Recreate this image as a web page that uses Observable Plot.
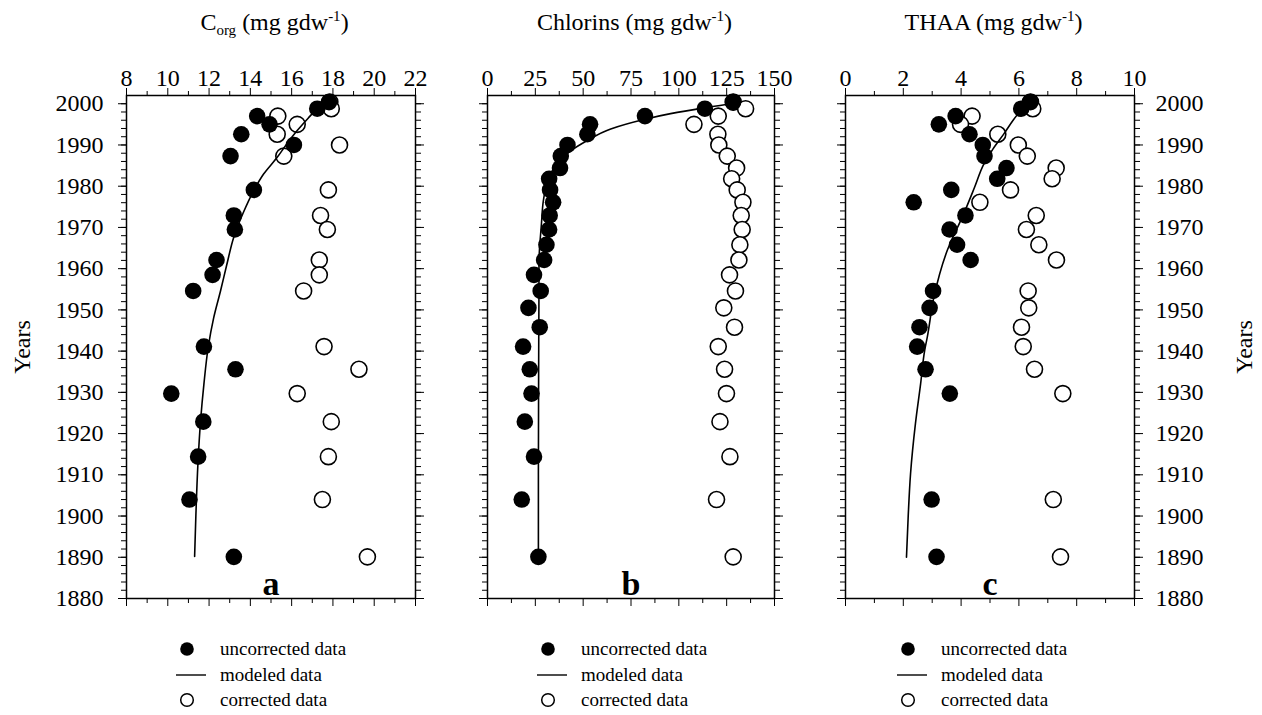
<!DOCTYPE html>
<html>
<head>
<meta charset="utf-8">
<script src="https://cdn.jsdelivr.net/npm/d3@7"></script>
<script src="https://cdn.jsdelivr.net/npm/@observablehq/plot@0.6"></script>
<style>
  html, body { margin: 0; padding: 0; background: #fff; }
  #wrap { position: relative; width: 1262px; height: 715px; overflow: hidden; background: #fff;
          font-family: "Liberation Serif", "DejaVu Serif", serif; color: #000; }
  .abs { position: absolute; }
  .panel svg { overflow: visible; }
  .title { font-size: 24px; white-space: nowrap; transform: translateX(-50%); top: 8px; line-height: 28px; }
  .title sub { font-size: 15px; vertical-align: -5px; line-height: 0; }
  .title sup { font-size: 15px; vertical-align: 9px; line-height: 0; }
  .ylab { font-size: 24px; white-space: nowrap; transform: translate(-50%, -50%) rotate(-90deg); }
  .legend { font-size: 19px; }
  .legend .row { position: absolute; left: 0; height: 26px; white-space: nowrap; }
  .legend svg { position: absolute; left: -16px; top: 0; overflow: visible; }
  .legend span { position: absolute; left: 33px; top: 1px; line-height: 24px; }
</style>
</head>
<body>
<div id="wrap"></div>
<script>
// ---------- shared axis values ----------
const yearTicks = [1880, 1890, 1900, 1910, 1920, 1930, 1940, 1950, 1960, 1970, 1980, 1990, 2000];
const yearMinorTicks = d3.range(1880, 2001, 2);
const yearDomain = [1880, 2002];

// ---------- panel a : C_org ----------
const corgXTicks = [8, 10, 12, 14, 16, 18, 20, 22];
const corgXMinor = [9, 11, 13, 15, 17, 19, 21];
const corgYears = [2000.4, 1998.8, 1997.0, 1995.0, 1992.6, 1990.0, 1987.3, 1979.1, 1972.9, 1969.5,
                   1962.1, 1958.5, 1954.6, 1941.1, 1935.6, 1929.7, 1922.9, 1914.4, 1904.0, 1890.1];
const corgUncorrected = [17.81, 17.24, 14.33, 14.93, 13.56, 16.11, 13.04, 14.17, 13.20, 13.25,
                         12.36, 12.17, 11.23, 11.75, 13.28, 10.17, 11.72, 11.47, 11.05, 13.20];
const corgCorrected = [17.85, 17.92, 15.33, 16.27, 15.30, 18.32, 15.62, 17.78, 17.40, 17.73,
                       17.34, 17.34, 16.58, 17.57, 19.26, 16.27, 17.92, 17.78, 17.49, 19.67];
const corgModelYears = [1890.2, 1900, 1912.7, 1923.2, 1932, 1941, 1948, 1954.7, 1961, 1967.7,
                        1973.5, 1979, 1983, 1987, 1990.5, 1993.5, 1996.5, 1998.8, 2001.4];
const corgModel = [11.30, 11.36, 11.46, 11.59, 11.75, 11.96, 12.22, 12.56, 12.86, 13.20,
                   13.65, 14.17, 14.65, 15.30, 15.80, 16.27, 16.80, 17.24, 17.90];

// ---------- panel b : Chlorins ----------
const chlXTicks = [0, 25, 50, 75, 100, 125, 150];
const chlXMinor = [12.5, 37.5, 62.5, 87.5, 112.5, 137.5];
const chlYearsU = [2000.4, 1998.8, 1997.0, 1995.0, 1992.6, 1990.0, 1987.3, 1984.4, 1981.8, 1979.1,
                   1976.1, 1972.9, 1969.5, 1965.8, 1962.1, 1958.5, 1954.6, 1950.5, 1945.8, 1941.1,
                   1935.6, 1929.7, 1922.9, 1914.4, 1904.0, 1890.1];
const chlUncorrected = [128.4, 113.6, 82.3, 53.6, 52.2, 41.8, 38.3, 37.9, 32.2, 32.7,
                        34.3, 32.5, 32.2, 30.8, 29.6, 24.3, 27.8, 21.4, 27.3, 18.6,
                        22.1, 23.0, 19.5, 24.3, 17.9, 26.6];
const chlYearsC = [2000.4, 1998.8, 1997.0, 1995.0, 1992.6, 1990.0, 1987.3, 1984.4, 1981.8, 1979.1,
                   1976.1, 1972.9, 1969.5, 1965.8, 1962.1, 1958.5, 1954.6, 1950.5, 1945.8, 1941.1,
                   1935.6, 1929.7, 1922.9, 1914.4, 1904.0, 1890.1];
const chlCorrected = [128.4, 134.9, 120.6, 107.9, 120.4, 120.9, 125.3, 130.2, 127.6, 130.5,
                      133.5, 132.6, 133.1, 131.9, 131.4, 126.5, 129.6, 123.5, 129.1, 120.6,
                      123.9, 124.9, 121.5, 126.7, 119.7, 128.4];
const chlModelYears = [1890, 1910, 1930, 1945, 1955, 1961.2, 1970.9, 1976.5, 1980.6, 1983.8,
                       1986.6, 1988.6, 1991.1, 1993.9, 1996.2, 1997.6, 1999.0, 2000.0, 2000.6];
const chlModel = [26.6, 26.6, 26.7, 26.8, 26.9, 26.9, 28.2, 29.2, 31.0, 33.9,
                  38.3, 43.5, 52.2, 64.4, 81.8, 95.7, 113.1, 127.0, 131.0];

// ---------- panel c : THAA ----------
const thaaXTicks = [0, 2, 4, 6, 8, 10];
const thaaXMinor = [1, 3, 5, 7, 9];
const thaaYearsU = [2000.4, 1998.8, 1997.0, 1995.0, 1992.6, 1990.0, 1987.3, 1984.4, 1981.8, 1979.1,
                    1976.1, 1972.9, 1969.5, 1965.8, 1962.1, 1954.6, 1950.5, 1945.8, 1941.1, 1935.6,
                    1929.7, 1904.0, 1890.1];
const thaaUncorrected = [6.40, 6.08, 3.81, 3.23, 4.29, 4.75, 4.81, 5.57, 5.25, 3.66,
                         2.36, 4.15, 3.60, 3.86, 4.33, 3.03, 2.91, 2.56, 2.48, 2.77,
                         3.61, 2.98, 3.15];
const thaaYearsC = [2000.4, 1998.8, 1997.0, 1995.0, 1992.6, 1990.0, 1987.3, 1984.4, 1981.8, 1979.1,
                    1976.1, 1972.9, 1969.5, 1965.8, 1962.1, 1954.6, 1950.5, 1945.8, 1941.1, 1935.6,
                    1929.7, 1904.0, 1890.1];
const thaaCorrected = [6.40, 6.48, 4.38, 3.98, 5.27, 5.98, 6.29, 7.29, 7.15, 5.71,
                       4.65, 6.60, 6.26, 6.69, 7.30, 6.32, 6.34, 6.09, 6.15, 6.54,
                       7.52, 7.19, 7.44];
const thaaModelYears = [1890, 1900, 1910.2, 1922.4, 1932.1, 1940.2, 1943.4, 1953.1, 1964.4, 1973.3,
                        1979.8, 1985.4, 1989, 1992.7, 1996, 1998.4, 2001.6];
const thaaModel = [2.11, 2.17, 2.25, 2.42, 2.60, 2.74, 2.83, 3.06, 3.52, 4.09,
                   4.47, 4.79, 5.10, 5.48, 5.80, 6.06, 6.40];

// ---------- helpers ----------
const rows = (years, vals) => years.map((year, i) => ({year, value: vals[i]}));
const fmt = d => String(d);
const blank = () => "";

function panel(cfg) {
  const marks = [
    Plot.axisX({anchor: "top", ticks: cfg.xMinor, tickSize: 5, tickFormat: blank, label: null}),
    Plot.axisX({anchor: "top", ticks: cfg.xTicks, tickSize: 8, tickPadding: 2, fontSize: 24, tickFormat: fmt, label: null}),
    Plot.axisX({anchor: "bottom", ticks: cfg.xMinor, tickSize: 5, tickFormat: blank, label: null}),
    Plot.axisX({anchor: "bottom", ticks: cfg.xTicks, tickSize: 8, tickFormat: blank, label: null}),
    Plot.axisY({anchor: "left", ticks: yearMinorTicks, tickSize: 5, tickFormat: blank, label: null}),
    Plot.axisY({anchor: "left", ticks: yearTicks, tickSize: 8, tickPadding: 15, fontSize: 24,
                tickFormat: cfg.leftLabels ? fmt : blank, label: null}),
    Plot.axisY({anchor: "right", ticks: yearMinorTicks, tickSize: 5, tickFormat: blank, label: null}),
    Plot.axisY({anchor: "right", ticks: yearTicks, tickSize: 8, tickPadding: 13, fontSize: 24,
                tickFormat: cfg.rightLabels ? fmt : blank, label: null}),
    Plot.frame({stroke: "black", strokeWidth: 1.5}),
    Plot.dot(cfg.corrected, {x: "value", y: "year", r: 8, fill: "white", stroke: "black", strokeWidth: 1.6}),
    Plot.line(cfg.model, {x: "value", y: "year", stroke: "black", strokeWidth: 1.6, curve: "monotone-y"}),
    Plot.dot(cfg.uncorrected, {x: "value", y: "year", r: 8.3, fill: "black", stroke: "none"}),
    Plot.text([cfg.letter], {text: d => d, frameAnchor: "bottom", dy: -4, fontSize: 34, fontWeight: "bold"})
  ];
  return Plot.plot({
    width: cfg.width,
    height: 620,
    marginLeft: cfg.marginLeft,
    marginRight: cfg.marginRight,
    marginTop: 95,
    marginBottom: 22,
    x: {domain: cfg.xDomain},
    y: {domain: yearDomain},
    style: {fontFamily: "'Liberation Serif', 'DejaVu Serif', serif", fontSize: "24px", color: "black",
            background: "transparent", overflow: "visible"},
    marks
  });
}

const wrap = document.getElementById("wrap");

const panels = [
  {left: 0, width: 430, marginLeft: 126, marginRight: 15, xDomain: [8, 22],
   xTicks: corgXTicks, xMinor: corgXMinor,
   uncorrected: rows(corgYears, corgUncorrected), corrected: rows(corgYears, corgCorrected),
   model: rows(corgModelYears, corgModel), letter: "a", leftLabels: true, rightLabels: false,
   titleHTML: 'C<sub>org</sub> (mg gdw<sup>-1</sup>)', legendX: 187},
  {left: 470, width: 320, marginLeft: 17, marginRight: 16, xDomain: [0, 150],
   xTicks: chlXTicks, xMinor: chlXMinor,
   uncorrected: rows(chlYearsU, chlUncorrected), corrected: rows(chlYearsC, chlCorrected),
   model: rows(chlModelYears, chlModel), letter: "b", leftLabels: false, rightLabels: false,
   titleHTML: 'Chlorins (mg gdw<sup>-1</sup>)', legendX: 548},
  {left: 830, width: 432, marginLeft: 15, marginRight: 128, xDomain: [0, 10],
   xTicks: thaaXTicks, xMinor: thaaXMinor,
   uncorrected: rows(thaaYearsU, thaaUncorrected), corrected: rows(thaaYearsC, thaaCorrected),
   model: rows(thaaModelYears, thaaModel), letter: "c", leftLabels: false, rightLabels: true,
   titleHTML: 'THAA (mg gdw<sup>-1</sup>)', legendX: 908}
];

for (const p of panels) {
  const holder = document.createElement("div");
  holder.className = "abs panel";
  holder.style.left = p.left + "px";
  holder.style.top = "0px";
  holder.appendChild(panel(p));
  wrap.appendChild(holder);

  const frameCenter = p.left + p.marginLeft + (p.width - p.marginLeft - p.marginRight) / 2;
  const t = document.createElement("div");
  t.className = "abs title";
  t.style.left = (frameCenter + 4) + "px";
  t.innerHTML = p.titleHTML;
  wrap.appendChild(t);

  const lg = document.createElement("div");
  lg.className = "abs legend";
  lg.style.left = p.legendX + "px";
  lg.style.top = "636px";
  lg.innerHTML =
    '<div class="row" style="top:0px"><svg width="32" height="26"><circle cx="16" cy="13" r="6.8" fill="black"/></svg><span>uncorrected data</span></div>' +
    '<div class="row" style="top:26px"><svg width="32" height="26"><line x1="5" x2="35" y1="13" y2="13" stroke="black" stroke-width="1.4"/></svg><span>modeled data</span></div>' +
    '<div class="row" style="top:51px"><svg width="32" height="26"><circle cx="16" cy="13" r="6.3" fill="white" stroke="black" stroke-width="1.5"/></svg><span>corrected data</span></div>';
  wrap.appendChild(lg);
}

const yl = document.createElement("div");
yl.className = "abs ylab";
yl.style.left = "22px"; yl.style.top = "347px";
yl.textContent = "Years";
wrap.appendChild(yl);

const yr = document.createElement("div");
yr.className = "abs ylab";
yr.style.left = "1244px"; yr.style.top = "347px";
yr.textContent = "Years";
wrap.appendChild(yr);
</script>
</body>
</html>
